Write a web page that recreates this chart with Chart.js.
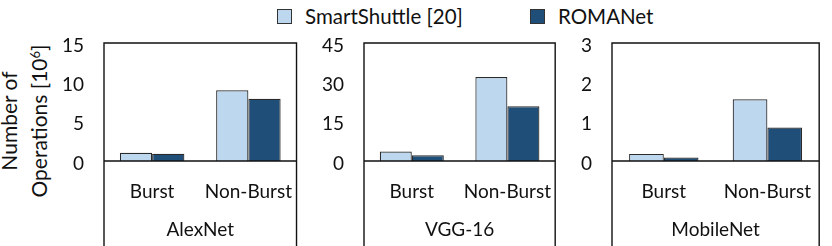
<!DOCTYPE html>
<html>
<head>
<meta charset="utf-8">
<script src="https://cdn.jsdelivr.net/npm/chart.js@4/dist/chart.umd.min.js"></script>
<style>
  html, body { margin: 0; padding: 0; background: #fff; }
  #wrap { position: relative; width: 832px; height: 246px; overflow: hidden; font-family: Lato, "Open Sans", sans-serif; color: #111; }
  canvas { position: absolute; top: 0; }
  .leg { position: absolute; top: 4px; height: 24px; display: flex; align-items: center; font-size: 20.5px; white-space: nowrap; }
  .sw { width: 13px; height: 13px; border: 1px solid #333; margin-right: 13px; }
  #ytitle { position: absolute; left: -76px; top: 91px; width: 200px; height: 60px; line-height: 30px; font-size: 21px; text-align: center; transform: rotate(-90deg); transform-origin: 50% 50%; white-space: nowrap; }
  #ytitle sup { font-size: 13px; line-height: 0; vertical-align: 7px; }
</style>
</head>
<body>
<div id="wrap">
  <div id="ytitle">Number of<br>Operations [10<sup>6</sup>]</div>
  <div class="leg" id="leg0" style="left:277px"><div class="sw" id="sw0"></div><span id="lt0"></span></div>
  <div class="leg" id="leg1" style="left:530px"><div class="sw" id="sw1"></div><span id="lt1"></span></div>
  <canvas id="c0"></canvas>
  <canvas id="c1"></canvas>
  <canvas id="c2"></canvas>
</div>
<script>
// ---- data ----
const categories = ['Burst', 'Non-Burst'];
const models = ['AlexNet', 'VGG-16', 'MobileNet'];
const seriesNames = ['SmartShuttle [20]', 'ROMANet'];
const smartShuttleAlexNet = [1.05, 9.0];
const romanetAlexNet = [0.93, 7.9];
const smartShuttleVGG16 = [3.6, 32.0];
const romanetVGG16 = [2.2, 20.9];
const smartShuttleMobileNet = [0.18, 1.57];
const romanetMobileNet = [0.09, 0.85];
const yMax = [15, 45, 3];
const yStep = [5, 15, 1];

// ---- style / layout ----
const colors = ['#BDD7EE', '#1F4E79'];
const panels = [
  { left: 104, right: 308, yW: 64 },
  { left: 364, right: 567, yW: 60 },
  { left: 612, right: 827, yW: 40 }
];
const H = 246, TOP = 43, ZERO = 161;
const FONT = 'Lato';
const TXT = '#111';

document.getElementById('sw0').style.background = colors[0];
document.getElementById('sw1').style.background = colors[1];
document.getElementById('lt0').textContent = seriesNames[0];
document.getElementById('lt1').textContent = seriesNames[1];

const frame = {
  id: 'frame',
  afterDatasetsDraw(chart) {
    const { ctx, chartArea: a } = chart;
    const y0 = chart.scales.y.getPixelForValue(0);
    ctx.save();
    ctx.strokeStyle = '#111';
    ctx.lineWidth = 1.4;
    ctx.beginPath();
    ctx.moveTo(a.left, H); ctx.lineTo(a.left, a.top); ctx.lineTo(a.right, a.top); ctx.lineTo(a.right, H);
    ctx.moveTo(a.left, y0); ctx.lineTo(a.right, y0);
    ctx.stroke();
    ctx.restore();
  }
};

const seriesData = [
  [smartShuttleAlexNet, romanetAlexNet],
  [smartShuttleVGG16, romanetVGG16],
  [smartShuttleMobileNet, romanetMobileNet]
];

panels.forEach((p, i) => {
  const cv = document.getElementById('c' + i);
  const w = p.yW + (p.right - p.left) + 4;
  cv.width = w; cv.height = H;
  cv.style.left = (p.left - p.yW) + 'px';
  cv.style.width = w + 'px'; cv.style.height = H + 'px';
  new Chart(cv, {
    type: 'bar',
    data: {
      labels: categories,
      datasets: seriesData[i].map((d, k) => ({
        label: seriesNames[k],
        data: d,
        backgroundColor: colors[k],
        borderColor: '#2a2a2a',
        borderWidth: 1.2,
        categoryPercentage: 0.67,
        barPercentage: 1.0
      }))
    },
    options: {
      responsive: false,
      animation: false,
      devicePixelRatio: 1,
      layout: { padding: { top: TOP, right: 4, bottom: 0, left: 0 } },
      plugins: { legend: { display: false }, tooltip: { enabled: false } },
      scales: {
        x: {
          grid: { display: false, drawTicks: false },
          border: { display: false },
          ticks: { font: { family: FONT, size: 19 }, color: TXT, padding: 19, maxRotation: 0 },
          title: { display: true, text: models[i], font: { family: FONT, size: 19 }, color: TXT, padding: { top: 0, bottom: 5 } },
          afterFit(s) { s.height = H - ZERO; }
        },
        y: {
          min: 0, max: yMax[i],
          grid: { display: false, drawTicks: false },
          border: { display: false },
          ticks: {
            stepSize: yStep[i],
            font: { family: FONT, size: 19, lineHeight: 0.28 },
            color: TXT, padding: 20,
            callback: (v) => ['', String(v)]
          },
          afterFit(s) { s.width = p.yW; }
        }
      }
    },
    plugins: [frame]
  });
});
</script>
</body>
</html>
